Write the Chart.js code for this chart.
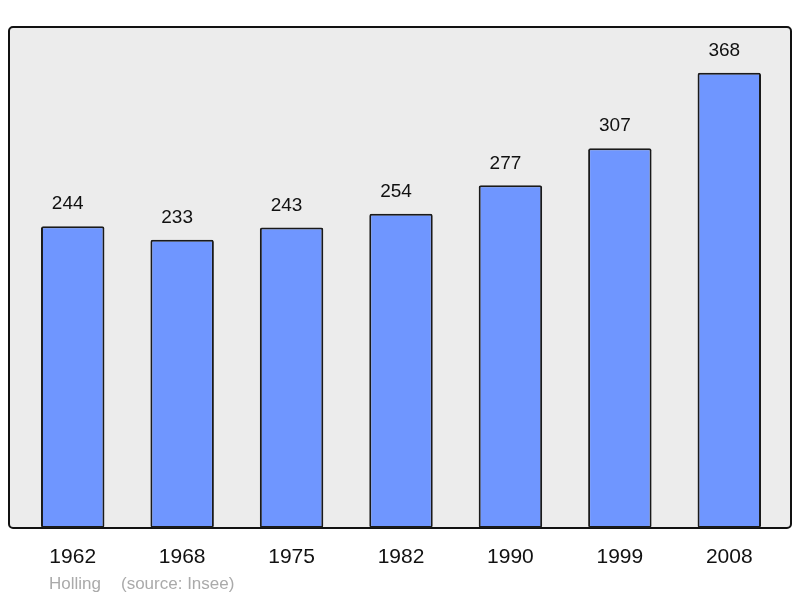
<!DOCTYPE html>
<html>
<head>
<meta charset="utf-8">
<script src="https://cdn.jsdelivr.net/npm/chart.js@4"></script>
<style>
  html, body { margin: 0; padding: 0; background: #fff; }
  #wrap { width: 800px; height: 598px; }
</style>
</head>
<body>
<div id="wrap"><canvas id="myChart" width="800" height="598"></canvas></div>
<script>
// data
const years = ['1962', '1968', '1975', '1982', '1990', '1999', '2008'];
const population = [244, 233, 243, 254, 277, 307, 368];
const author = 'Holling';
const source = '(source: Insee)';

// grey frame behind the bars
const framePlugin = {
  id: 'frame',
  beforeDraw(chart) {
    let ctx = chart.ctx;
    let a = chart.chartArea;
    let x0 = a.left - 9, x1 = a.right + 7, y0 = a.top, y1 = a.bottom;
    ctx.save();
    ctx.beginPath();
    ctx.roundRect(x0, y0, x1 - x0, y1 - y0, 4);
    ctx.fillStyle = '#ececec';
    ctx.fill();
    ctx.lineWidth = 2;
    ctx.strokeStyle = '#111';
    ctx.stroke();
    ctx.restore();
  }
};

// value labels above bars + footer
const labelPlugin = {
  id: 'labels',
  afterDatasetsDraw(chart) {
    let ctx = chart.ctx;
    let meta = chart.getDatasetMeta(0);
    ctx.save();
    ctx.font = '19px "Liberation Sans", Arial, sans-serif';
    ctx.fillStyle = '#111';
    ctx.textAlign = 'center';
    ctx.textBaseline = 'middle';
    meta.data.forEach((bar, i) => {
      ctx.fillText(population[i], bar.x - 5, bar.y - 22);
    });
    ctx.font = '17px "Liberation Sans", Arial, sans-serif';
    ctx.fillStyle = '#aaaaaa';
    ctx.textAlign = 'left';
    ctx.fillText(author, 49, 584);
    ctx.fillText(source, 121, 584);
    ctx.restore();
  }
};

var ctx = document.getElementById('myChart').getContext('2d');

var myChart = new Chart(ctx, {
  type: 'bar',
  data: {
    labels: years,
    datasets: [{
      data: population,
      backgroundColor: '#6f96ff',
      borderColor: '#1a1a1a',
      borderWidth: 2,
      borderRadius: 2,
      borderSkipped: false,
      categoryPercentage: 1,
      barPercentage: 0.58
    }]
  },
  options: {
    responsive: false,
    animation: false,
    layout: { padding: { left: 18, right: 16, top: 27, bottom: 0 } },
    plugins: {
      legend: { display: false },
      tooltip: { enabled: false }
    },
    scales: {
      x: {
        grid: { display: false, drawTicks: false },
        border: { display: false },
        ticks: {
          color: '#111',
          padding: 17,
          font: { size: 21, family: '"Liberation Sans", Arial, sans-serif' }
        },
        afterFit(scale) { scale.height = 70; }
      },
      y: {
        display: false,
        min: 0,
        max: 405
      }
    }
  },
  plugins: [framePlugin, labelPlugin]
});
</script>
</body>
</html>
